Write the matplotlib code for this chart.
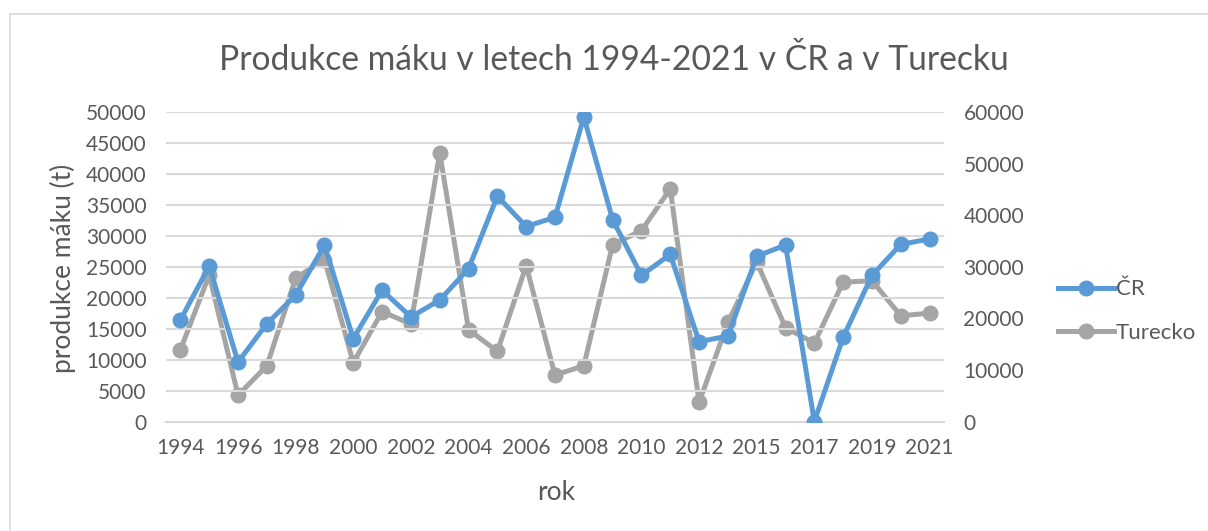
import matplotlib
matplotlib.use("Agg")
import matplotlib.pyplot as plt
from matplotlib.lines import Line2D
from matplotlib.patches import Rectangle

years = [1994, 1995, 1996, 1997, 1998, 1999, 2000, 2001, 2002, 2003, 2004,
         2005, 2006, 2007, 2008, 2009, 2010, 2011, 2012, 2014, 2015, 2016,
         2017, 2018, 2019, 2020, 2021]
cr = [16400, 25100, 9600, 15800, 20400, 28500, 13400, 21200, 16900, 19600,
      24700, 36400, 31500, 33000, 49200, 32600, 23600, 27000, 12900, 13800,
      26700, 28500, 0, 13600, 23600, 28600, 29500]
turecko = [13900, 28400, 5100, 10800, 27800, 31400, 11400, 21300, 18900,
           52100, 17800, 13600, 30200, 9000, 10800, 34300, 37000, 45100,
           3700, 19200, 30900, 18200, 15200, 27000, 27300, 20500, 21000]
left_ticks = list(range(0, 50001, 5000))
right_ticks = list(range(0, 60001, 10000))

plt.rcParams['font.family'] = ['Lato', 'DejaVu Sans']
TXT = '#595959'
BLUE = '#5B9BD5'
GRAY = '#A5A5A5'
GRID = '#D9D9D9'

W, H = 1208, 531
fig = plt.figure(figsize=(W / 100, H / 100), dpi=100)

# chart border
fig.patches.append(Rectangle((9.5 / W, -0.1), 1.2, 1 - 13.5 / H + 0.1,
                             transform=fig.transFigure, fill=False,
                             edgecolor='#D9D9D9', lw=1.2))

l, r = 166 / W, 944 / W
b, t = 1 - 421.5 / H, 1 - 112 / H
ax = fig.add_axes([l, b, r - l, t - b])
ax2 = ax.twinx()

x = list(range(len(years)))
ax.plot(x, cr, color=BLUE, lw=3.6, marker='o', ms=10.5, zorder=3,
        solid_capstyle='round', solid_joinstyle='round')
ax2.plot(x, turecko, color=GRAY, lw=3.6, marker='o', ms=10.5, zorder=3,
         solid_capstyle='round', solid_joinstyle='round')
ax.set_zorder(ax2.get_zorder() + 1)
ax.patch.set_visible(False)

ax.set_xlim(-0.5, len(years) - 0.5)
ax.set_ylim(0, 50000)
ax2.set_ylim(0, 60000)
ax.set_yticks(left_ticks)
ax2.set_yticks(right_ticks)
ax.set_xticks(x[::2])
ax.set_xticklabels([str(years[i]) for i in x[::2]])

ax.grid(axis='y', color=GRID, lw=1.5)
ax.set_axisbelow(True)
for a in (ax, ax2):
    for s in a.spines.values():
        s.set_visible(False)
    a.tick_params(length=0, labelsize=15, labelcolor=TXT)
ax.spines['bottom'].set_visible(True)
ax.spines['bottom'].set_color(GRID)
ax.spines['bottom'].set_linewidth(1.5)
ax.tick_params(axis='y', pad=14)
ax.tick_params(axis='x', pad=12)
ax2.tick_params(axis='y', pad=14)

fig.text(63 / W, 1 - 268 / H, 'produkce máku (t)', rotation=90,
         ha='center', va='center', fontsize=19, color=TXT)
fig.text(556 / W, 1 - 492 / H, 'rok', ha='center', va='center',
         fontsize=19, color=TXT)

fig.text(614 / W, 1 - 60 / H, 'Produkce máku v letech 1994-2021 v ČR a v Turecku',
         ha='center', va='center', fontsize=24.2, color=TXT)

handles = [Line2D([], [], color=BLUE, lw=3.6, marker='o', ms=10.5),
           Line2D([], [], color=GRAY, lw=3.6, marker='o', ms=10.5)]
fig.legend(handles, ['ČR', 'Turecko'], loc='center left',
           bbox_to_anchor=(1038 / W, 1 - 311 / H), frameon=False,
           fontsize=16, labelcolor=TXT, handlelength=2.5, handletextpad=0.1,
           labelspacing=1.05)

fig.savefig('out.png', dpi=100)
